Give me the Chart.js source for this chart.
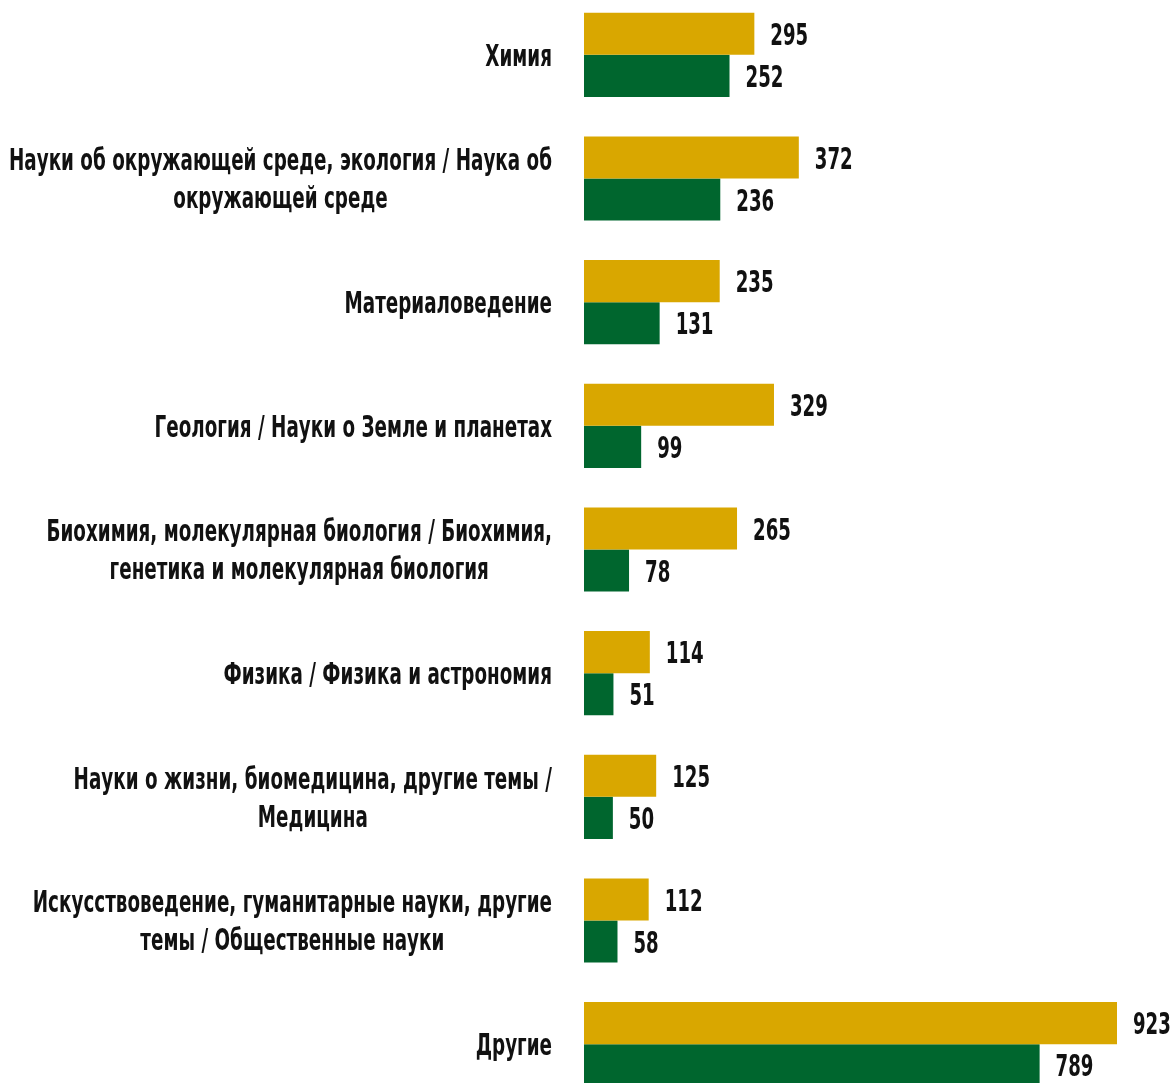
<!DOCTYPE html>
<html>
<head>
<meta charset="utf-8">
<script src="https://cdn.jsdelivr.net/npm/chart.js@4"></script>
<style>
  html, body { margin: 0; padding: 0; background: #fff; overflow: hidden; }
  #wrap { position: absolute; left: 0; top: -7px; width: 1175px; height: 1113px; }
</style>
</head>
<body>
<div id="wrap"><canvas id="barChart"></canvas></div>
<script>
const categories = [
    ['Химия'],
    ['Науки об окружающей среде, экология / Наука об', 'окружающей среде'],
    ['Материаловедение'],
    ['Геология / Науки о Земле и планетах'],
    ['Биохимия, молекулярная биология / Биохимия,', 'генетика и молекулярная биология'],
    ['Физика / Физика и астрономия'],
    ['Науки о жизни, биомедицина, другие темы /', 'Медицина'],
    ['Искусствоведение, гуманитарные науки, другие', 'темы / Общественные науки'],
    ['Другие']
];
const seriesGold = [295, 372, 235, 329, 265, 114, 125, 112, 923];
const seriesGreen = [252, 236, 131, 99, 78, 51, 50, 58, 789];

const FONT = '"DejaVu Sans Condensed", "DejaVu Sans", sans-serif';
const LABEL_SX = 0.68;
const VALUE_SX = 0.65;

// сжатый по ширине текст (в системе нет узкого шрифта)
function narrowText(ctx, text, x, y, sx, align) {
    ctx.save();
    ctx.translate(x, y);
    ctx.scale(sx, 1);
    ctx.textAlign = align;
    ctx.fillText(text, 0, 0);
    ctx.restore();
}

// подписи категорий слева и значения справа от столбцов
const textLabels = {
    id: 'textLabels',
    afterDatasetsDraw(chart) {
        const ctx = chart.ctx;
        const yScale = chart.scales.y;
        ctx.save();
        ctx.fillStyle = '#111';
        ctx.textBaseline = 'middle';

        ctx.font = 'bold 30px ' + FONT;
        chart.data.labels.forEach((lines, i) => {
            const yc = yScale.getPixelForValue(i);
            const start = yc - (lines.length - 1) * 38 / 2;
            // блок выровнен вправо, строки внутри по центру
            const maxW = Math.max(...lines.map(l => ctx.measureText(l).width)) * LABEL_SX;
            const cx = 552 - maxW / 2;
            lines.forEach((line, k) => {
                narrowText(ctx, line, cx, start + k * 38 + 3, LABEL_SX, 'center');
            });
        });

        ctx.font = 'bold 31px ' + FONT;
        chart.data.datasets.forEach((ds, i) => {
            chart.getDatasetMeta(i).data.forEach((bar, j) => {
                narrowText(ctx, String(ds.data[j]), bar.x + 16, bar.y + 3, VALUE_SX, 'left');
            });
        });
        ctx.restore();
    }
};

const ctx = document.getElementById('barChart').getContext('2d');
new Chart(ctx, {
    type: 'bar',
    data: {
        labels: categories,
        datasets: [{
            label: 'gold',
            data: seriesGold,
            backgroundColor: '#D9A700',
            categoryPercentage: 0.68,
            barPercentage: 1
        }, {
            label: 'green',
            data: seriesGreen,
            backgroundColor: '#00662E',
            categoryPercentage: 0.68,
            barPercentage: 1
        }]
    },
    options: {
        indexAxis: 'y',
        responsive: true,
        maintainAspectRatio: false,
        animation: false,
        layout: { padding: { right: 58, top: 0, bottom: 0, left: 0 } },
        plugins: {
            legend: { display: false },
            tooltip: { enabled: false }
        },
        scales: {
            x: {
                display: false,
                min: 0,
                max: 923
            },
            y: {
                grid: { display: false },
                border: { display: false },
                afterFit: function (scale) { scale.width = 584; },
                ticks: { display: false }
            }
        }
    },
    plugins: [textLabels]
});
</script>
</body>
</html>
